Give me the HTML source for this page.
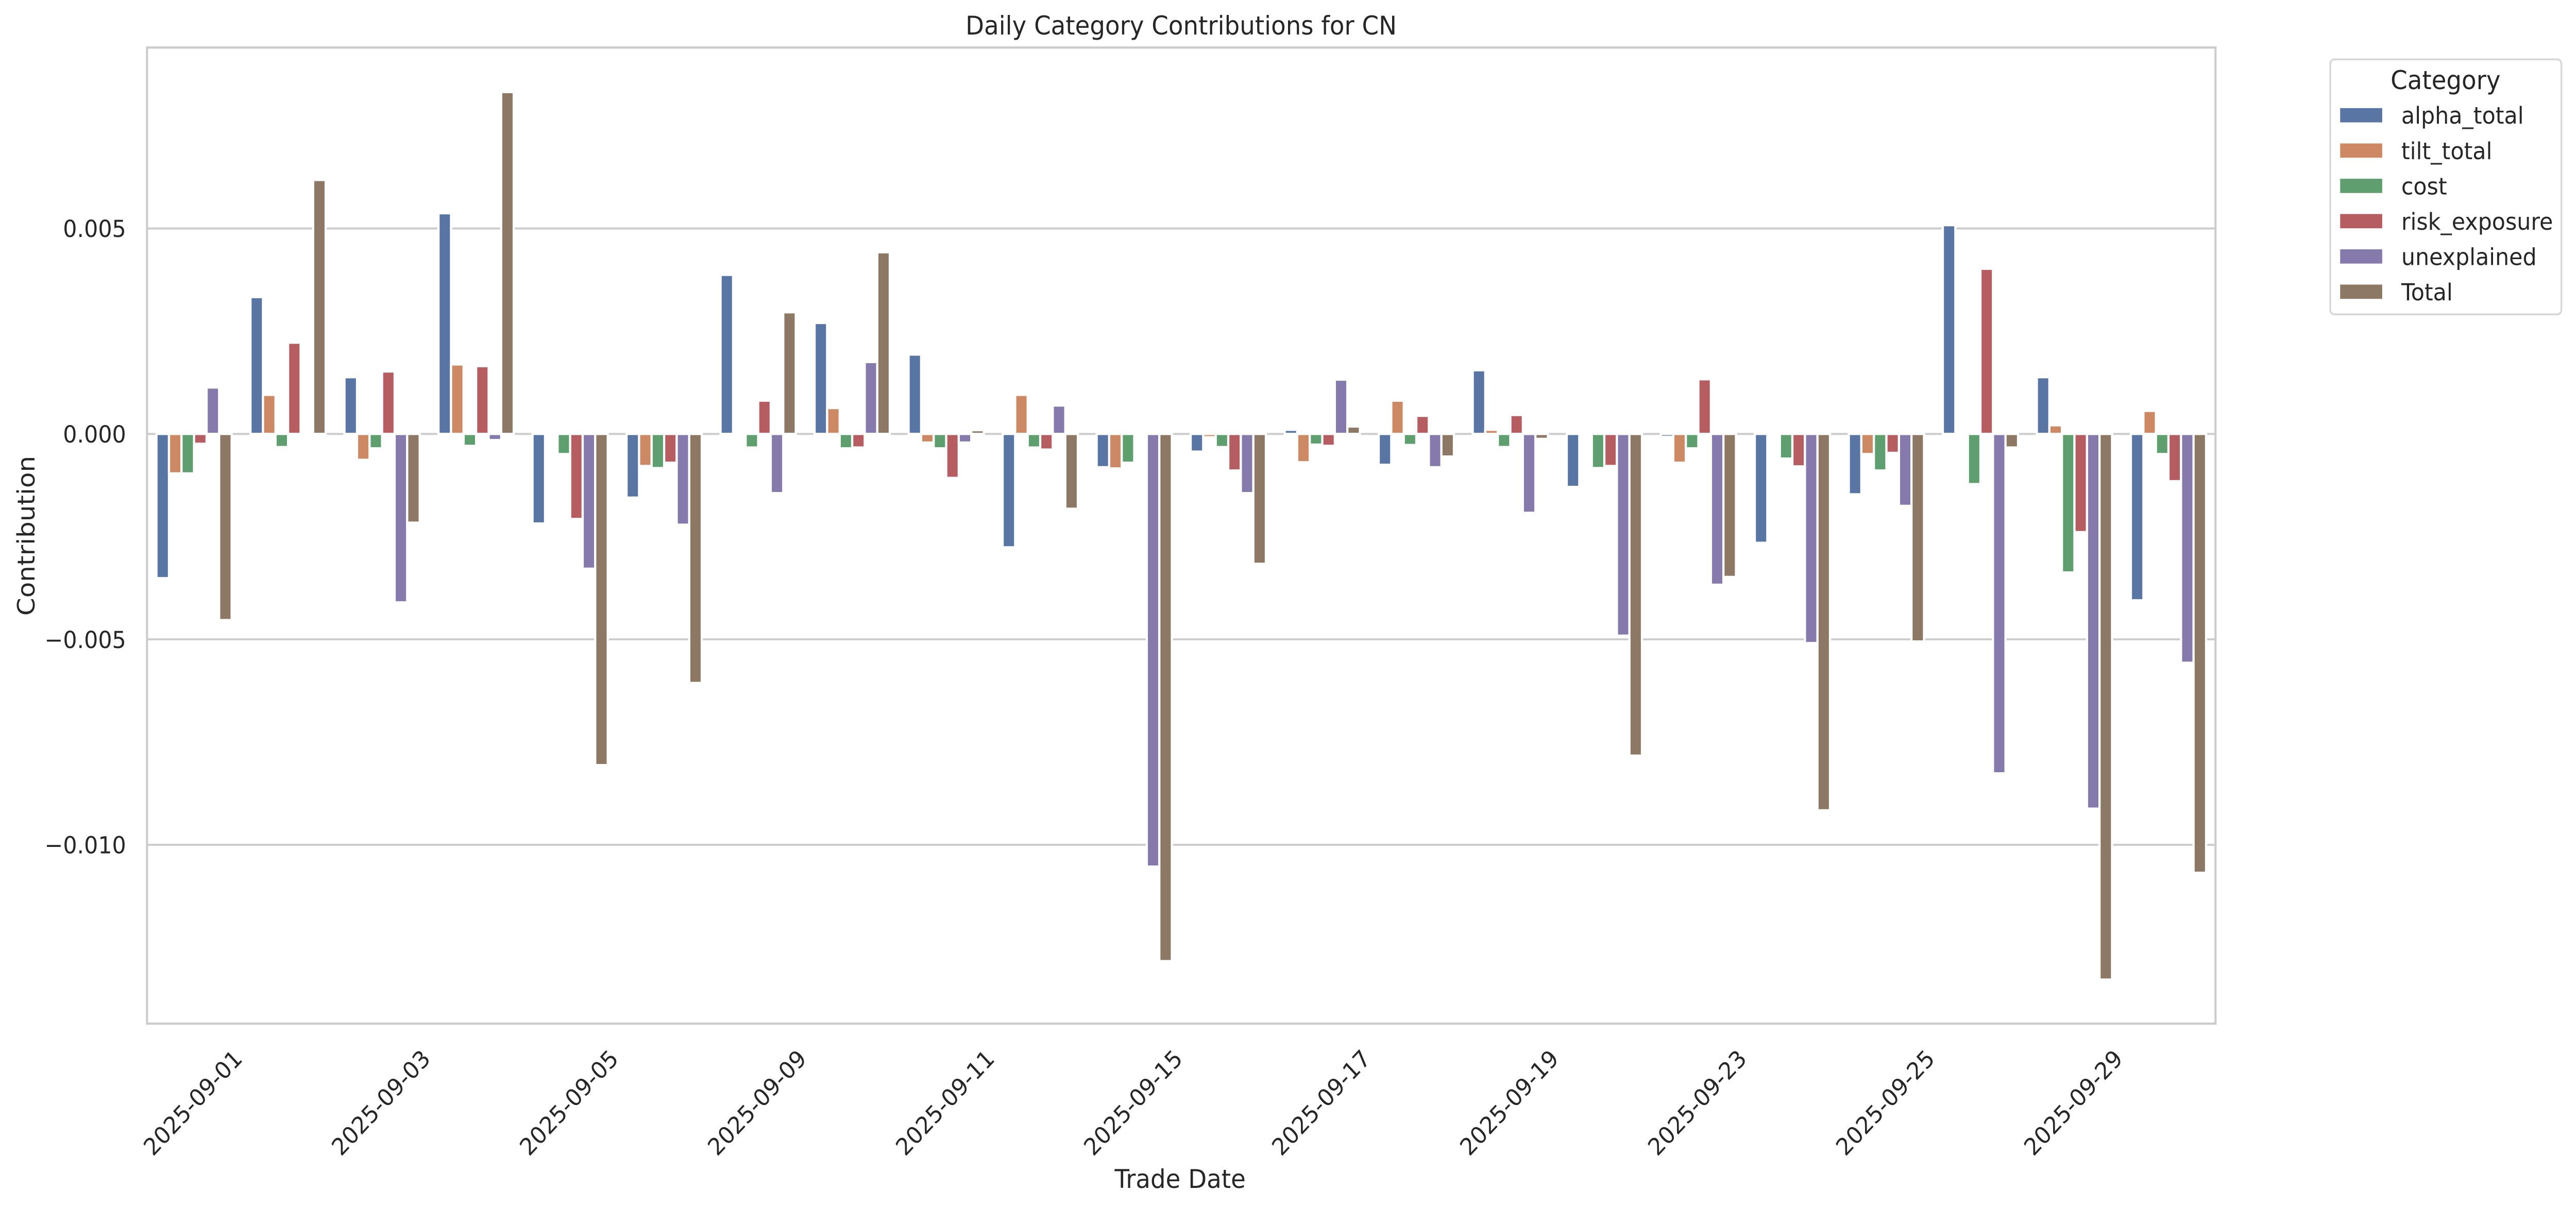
<!DOCTYPE html>
<html>
<head>
<meta charset="utf-8">
<style>
html,body{margin:0;padding:0;background:#fff;width:100%;height:100%;overflow:hidden;}
svg{display:block;width:100vw;height:100vh;}
text{font-family:"DejaVu Sans","Liberation Sans",sans-serif;fill:#262626;}
.a{fill:#5975a4}.t{fill:#cc8963}.c{fill:#5f9e6e}.r{fill:#b55d60}.u{fill:#857aab}.o{fill:#8d7866}
.bars rect{stroke:#fff;stroke-width:4.3;}
</style>
</head>
<body>
<svg viewBox="0 0 5352 2343" preserveAspectRatio="none" xmlns="http://www.w3.org/2000/svg">
<rect x="0" y="0" width="5352" height="2343" fill="#fff"/>
<!-- gridlines -->
<g stroke="#cccccc" stroke-width="3.9">
<line x1="305.5" y1="443.5" x2="4603" y2="443.5"/>
<line x1="305.5" y1="842.3" x2="4603" y2="842.3"/>
<line x1="305.5" y1="1241.1" x2="4603" y2="1241.1"/>
<line x1="305.5" y1="1639.9" x2="4603" y2="1639.9"/>
</g>
<!-- bars -->
<g class="bars" transform="translate(305.5,842.3) scale(195.34,-7.976)">
<g transform="translate(0,0)"><rect class="a" x="0.1" y="-35.1" width="0.13333" height="35.1" vector-effect="non-scaling-stroke"/><rect class="t" x="0.23333" y="-9.6" width="0.13333" height="9.6" vector-effect="non-scaling-stroke"/><rect class="c" x="0.36667" y="-9.6" width="0.13333" height="9.6" vector-effect="non-scaling-stroke"/><rect class="r" x="0.5" y="-2.4" width="0.13333" height="2.4" vector-effect="non-scaling-stroke"/><rect class="u" x="0.63333" y="0" width="0.13333" height="11.3" vector-effect="non-scaling-stroke"/><rect class="o" x="0.76667" y="-45.3" width="0.13333" height="45.3" vector-effect="non-scaling-stroke"/></g>
<g transform="translate(1,0)"><rect class="a" x="0.1" y="0" width="0.13333" height="33.3" vector-effect="non-scaling-stroke"/><rect class="t" x="0.23333" y="0" width="0.13333" height="9.5" vector-effect="non-scaling-stroke"/><rect class="c" x="0.36667" y="-3.2" width="0.13333" height="3.2" vector-effect="non-scaling-stroke"/><rect class="r" x="0.5" y="0" width="0.13333" height="22.2" vector-effect="non-scaling-stroke"/><rect class="u" x="0.63333" y="0" width="0.13333" height="0.05" vector-effect="non-scaling-stroke"/><rect class="o" x="0.76667" y="0" width="0.13333" height="61.8" vector-effect="non-scaling-stroke"/></g>
<g transform="translate(2,0)"><rect class="a" x="0.1" y="0" width="0.13333" height="13.8" vector-effect="non-scaling-stroke"/><rect class="t" x="0.23333" y="-6.3" width="0.13333" height="6.3" vector-effect="non-scaling-stroke"/><rect class="c" x="0.36667" y="-3.5" width="0.13333" height="3.5" vector-effect="non-scaling-stroke"/><rect class="r" x="0.5" y="0" width="0.13333" height="15.2" vector-effect="non-scaling-stroke"/><rect class="u" x="0.63333" y="-41.0" width="0.13333" height="41.0" vector-effect="non-scaling-stroke"/><rect class="o" x="0.76667" y="-21.6" width="0.13333" height="21.6" vector-effect="non-scaling-stroke"/></g>
<g transform="translate(3,0)"><rect class="a" x="0.1" y="0" width="0.13333" height="53.7" vector-effect="non-scaling-stroke"/><rect class="t" x="0.23333" y="0" width="0.13333" height="16.9" vector-effect="non-scaling-stroke"/><rect class="c" x="0.36667" y="-2.9" width="0.13333" height="2.9" vector-effect="non-scaling-stroke"/><rect class="r" x="0.5" y="0" width="0.13333" height="16.5" vector-effect="non-scaling-stroke"/><rect class="u" x="0.63333" y="-1.5" width="0.13333" height="1.5" vector-effect="non-scaling-stroke"/><rect class="o" x="0.76667" y="0" width="0.13333" height="83.2" vector-effect="non-scaling-stroke"/></g>
<g transform="translate(4,0)"><rect class="a" x="0.1" y="-21.8" width="0.13333" height="21.8" vector-effect="non-scaling-stroke"/><rect class="t" x="0.23333" y="0" width="0.13333" height="0.05" vector-effect="non-scaling-stroke"/><rect class="c" x="0.36667" y="-4.9" width="0.13333" height="4.9" vector-effect="non-scaling-stroke"/><rect class="r" x="0.5" y="-20.7" width="0.13333" height="20.7" vector-effect="non-scaling-stroke"/><rect class="u" x="0.63333" y="-32.8" width="0.13333" height="32.8" vector-effect="non-scaling-stroke"/><rect class="o" x="0.76667" y="-80.6" width="0.13333" height="80.6" vector-effect="non-scaling-stroke"/></g>
<g transform="translate(5,0)"><rect class="a" x="0.1" y="-15.5" width="0.13333" height="15.5" vector-effect="non-scaling-stroke"/><rect class="t" x="0.23333" y="-7.8" width="0.13333" height="7.8" vector-effect="non-scaling-stroke"/><rect class="c" x="0.36667" y="-8.3" width="0.13333" height="8.3" vector-effect="non-scaling-stroke"/><rect class="r" x="0.5" y="-7.0" width="0.13333" height="7.0" vector-effect="non-scaling-stroke"/><rect class="u" x="0.63333" y="-22.1" width="0.13333" height="22.1" vector-effect="non-scaling-stroke"/><rect class="o" x="0.76667" y="-60.6" width="0.13333" height="60.6" vector-effect="non-scaling-stroke"/></g>
<g transform="translate(6,0)"><rect class="a" x="0.1" y="0" width="0.13333" height="38.7" vector-effect="non-scaling-stroke"/><rect class="t" x="0.23333" y="0" width="0.13333" height="0.05" vector-effect="non-scaling-stroke"/><rect class="c" x="0.36667" y="-3.3" width="0.13333" height="3.3" vector-effect="non-scaling-stroke"/><rect class="r" x="0.5" y="0" width="0.13333" height="8.1" vector-effect="non-scaling-stroke"/><rect class="u" x="0.63333" y="-14.4" width="0.13333" height="14.4" vector-effect="non-scaling-stroke"/><rect class="o" x="0.76667" y="0" width="0.13333" height="29.6" vector-effect="non-scaling-stroke"/></g>
<g transform="translate(7,0)"><rect class="a" x="0.1" y="0" width="0.13333" height="27.0" vector-effect="non-scaling-stroke"/><rect class="t" x="0.23333" y="0" width="0.13333" height="6.3" vector-effect="non-scaling-stroke"/><rect class="c" x="0.36667" y="-3.5" width="0.13333" height="3.5" vector-effect="non-scaling-stroke"/><rect class="r" x="0.5" y="-3.3" width="0.13333" height="3.3" vector-effect="non-scaling-stroke"/><rect class="u" x="0.63333" y="0" width="0.13333" height="17.5" vector-effect="non-scaling-stroke"/><rect class="o" x="0.76667" y="0" width="0.13333" height="44.2" vector-effect="non-scaling-stroke"/></g>
<g transform="translate(8,0)"><rect class="a" x="0.1" y="0" width="0.13333" height="19.3" vector-effect="non-scaling-stroke"/><rect class="t" x="0.23333" y="-2.1" width="0.13333" height="2.1" vector-effect="non-scaling-stroke"/><rect class="c" x="0.36667" y="-3.5" width="0.13333" height="3.5" vector-effect="non-scaling-stroke"/><rect class="r" x="0.5" y="-10.7" width="0.13333" height="10.7" vector-effect="non-scaling-stroke"/><rect class="u" x="0.63333" y="-2.1" width="0.13333" height="2.1" vector-effect="non-scaling-stroke"/><rect class="o" x="0.76667" y="0" width="0.13333" height="0.9" vector-effect="non-scaling-stroke"/></g>
<g transform="translate(9,0)"><rect class="a" x="0.1" y="-27.6" width="0.13333" height="27.6" vector-effect="non-scaling-stroke"/><rect class="t" x="0.23333" y="0" width="0.13333" height="9.5" vector-effect="non-scaling-stroke"/><rect class="c" x="0.36667" y="-3.3" width="0.13333" height="3.3" vector-effect="non-scaling-stroke"/><rect class="r" x="0.5" y="-3.8" width="0.13333" height="3.8" vector-effect="non-scaling-stroke"/><rect class="u" x="0.63333" y="0" width="0.13333" height="6.9" vector-effect="non-scaling-stroke"/><rect class="o" x="0.76667" y="-18.2" width="0.13333" height="18.2" vector-effect="non-scaling-stroke"/></g>
<g transform="translate(10,0)"><rect class="a" x="0.1" y="-8.1" width="0.13333" height="8.1" vector-effect="non-scaling-stroke"/><rect class="t" x="0.23333" y="-8.4" width="0.13333" height="8.4" vector-effect="non-scaling-stroke"/><rect class="c" x="0.36667" y="-7.0" width="0.13333" height="7.0" vector-effect="non-scaling-stroke"/><rect class="r" x="0.5" y="0" width="0.13333" height="0.05" vector-effect="non-scaling-stroke"/><rect class="u" x="0.63333" y="-105.3" width="0.13333" height="105.3" vector-effect="non-scaling-stroke"/><rect class="o" x="0.76667" y="-128.3" width="0.13333" height="128.3" vector-effect="non-scaling-stroke"/></g>
<g transform="translate(11,0)"><rect class="a" x="0.1" y="-4.3" width="0.13333" height="4.3" vector-effect="non-scaling-stroke"/><rect class="t" x="0.23333" y="-0.8" width="0.13333" height="0.8" vector-effect="non-scaling-stroke"/><rect class="c" x="0.36667" y="-3.2" width="0.13333" height="3.2" vector-effect="non-scaling-stroke"/><rect class="r" x="0.5" y="-8.9" width="0.13333" height="8.9" vector-effect="non-scaling-stroke"/><rect class="u" x="0.63333" y="-14.4" width="0.13333" height="14.4" vector-effect="non-scaling-stroke"/><rect class="o" x="0.76667" y="-31.6" width="0.13333" height="31.6" vector-effect="non-scaling-stroke"/></g>
<g transform="translate(12,0)"><rect class="a" x="0.1" y="0" width="0.13333" height="1.0" vector-effect="non-scaling-stroke"/><rect class="t" x="0.23333" y="-6.9" width="0.13333" height="6.9" vector-effect="non-scaling-stroke"/><rect class="c" x="0.36667" y="-2.6" width="0.13333" height="2.6" vector-effect="non-scaling-stroke"/><rect class="r" x="0.5" y="-2.9" width="0.13333" height="2.9" vector-effect="non-scaling-stroke"/><rect class="u" x="0.63333" y="0" width="0.13333" height="13.2" vector-effect="non-scaling-stroke"/><rect class="o" x="0.76667" y="0" width="0.13333" height="1.8" vector-effect="non-scaling-stroke"/></g>
<g transform="translate(13,0)"><rect class="a" x="0.1" y="-7.5" width="0.13333" height="7.5" vector-effect="non-scaling-stroke"/><rect class="t" x="0.23333" y="0" width="0.13333" height="8.1" vector-effect="non-scaling-stroke"/><rect class="c" x="0.36667" y="-2.7" width="0.13333" height="2.7" vector-effect="non-scaling-stroke"/><rect class="r" x="0.5" y="0" width="0.13333" height="4.4" vector-effect="non-scaling-stroke"/><rect class="u" x="0.63333" y="-8.1" width="0.13333" height="8.1" vector-effect="non-scaling-stroke"/><rect class="o" x="0.76667" y="-5.5" width="0.13333" height="5.5" vector-effect="non-scaling-stroke"/></g>
<g transform="translate(14,0)"><rect class="a" x="0.1" y="0" width="0.13333" height="15.5" vector-effect="non-scaling-stroke"/><rect class="t" x="0.23333" y="0" width="0.13333" height="1.0" vector-effect="non-scaling-stroke"/><rect class="c" x="0.36667" y="-3.2" width="0.13333" height="3.2" vector-effect="non-scaling-stroke"/><rect class="r" x="0.5" y="0" width="0.13333" height="4.6" vector-effect="non-scaling-stroke"/><rect class="u" x="0.63333" y="-19.2" width="0.13333" height="19.2" vector-effect="non-scaling-stroke"/><rect class="o" x="0.76667" y="-1.2" width="0.13333" height="1.2" vector-effect="non-scaling-stroke"/></g>
<g transform="translate(15,0)"><rect class="a" x="0.1" y="-12.9" width="0.13333" height="12.9" vector-effect="non-scaling-stroke"/><rect class="t" x="0.23333" y="0" width="0.13333" height="0.05" vector-effect="non-scaling-stroke"/><rect class="c" x="0.36667" y="-8.3" width="0.13333" height="8.3" vector-effect="non-scaling-stroke"/><rect class="r" x="0.5" y="-7.8" width="0.13333" height="7.8" vector-effect="non-scaling-stroke"/><rect class="u" x="0.63333" y="-49.1" width="0.13333" height="49.1" vector-effect="non-scaling-stroke"/><rect class="o" x="0.76667" y="-78.3" width="0.13333" height="78.3" vector-effect="non-scaling-stroke"/></g>
<g transform="translate(16,0)"><rect class="a" x="0.1" y="-0.7" width="0.13333" height="0.7" vector-effect="non-scaling-stroke"/><rect class="t" x="0.23333" y="-7.0" width="0.13333" height="7.0" vector-effect="non-scaling-stroke"/><rect class="c" x="0.36667" y="-3.5" width="0.13333" height="3.5" vector-effect="non-scaling-stroke"/><rect class="r" x="0.5" y="0" width="0.13333" height="13.3" vector-effect="non-scaling-stroke"/><rect class="u" x="0.63333" y="-36.7" width="0.13333" height="36.7" vector-effect="non-scaling-stroke"/><rect class="o" x="0.76667" y="-34.8" width="0.13333" height="34.8" vector-effect="non-scaling-stroke"/></g>
<g transform="translate(17,0)"><rect class="a" x="0.1" y="-26.5" width="0.13333" height="26.5" vector-effect="non-scaling-stroke"/><rect class="t" x="0.23333" y="0" width="0.13333" height="0.05" vector-effect="non-scaling-stroke"/><rect class="c" x="0.36667" y="-6.0" width="0.13333" height="6.0" vector-effect="non-scaling-stroke"/><rect class="r" x="0.5" y="-7.9" width="0.13333" height="7.9" vector-effect="non-scaling-stroke"/><rect class="u" x="0.63333" y="-50.9" width="0.13333" height="50.9" vector-effect="non-scaling-stroke"/><rect class="o" x="0.76667" y="-91.6" width="0.13333" height="91.6" vector-effect="non-scaling-stroke"/></g>
<g transform="translate(18,0)"><rect class="a" x="0.1" y="-14.7" width="0.13333" height="14.7" vector-effect="non-scaling-stroke"/><rect class="t" x="0.23333" y="-4.9" width="0.13333" height="4.9" vector-effect="non-scaling-stroke"/><rect class="c" x="0.36667" y="-8.9" width="0.13333" height="8.9" vector-effect="non-scaling-stroke"/><rect class="r" x="0.5" y="-4.6" width="0.13333" height="4.6" vector-effect="non-scaling-stroke"/><rect class="u" x="0.63333" y="-17.5" width="0.13333" height="17.5" vector-effect="non-scaling-stroke"/><rect class="o" x="0.76667" y="-50.5" width="0.13333" height="50.5" vector-effect="non-scaling-stroke"/></g>
<g transform="translate(19,0)"><rect class="a" x="0.1" y="0" width="0.13333" height="50.8" vector-effect="non-scaling-stroke"/><rect class="t" x="0.23333" y="0" width="0.13333" height="0.05" vector-effect="non-scaling-stroke"/><rect class="c" x="0.36667" y="-12.2" width="0.13333" height="12.2" vector-effect="non-scaling-stroke"/><rect class="r" x="0.5" y="0" width="0.13333" height="40.2" vector-effect="non-scaling-stroke"/><rect class="u" x="0.63333" y="-82.6" width="0.13333" height="82.6" vector-effect="non-scaling-stroke"/><rect class="o" x="0.76667" y="-3.3" width="0.13333" height="3.3" vector-effect="non-scaling-stroke"/></g>
<g transform="translate(20,0)"><rect class="a" x="0.1" y="0" width="0.13333" height="13.8" vector-effect="non-scaling-stroke"/><rect class="t" x="0.23333" y="0" width="0.13333" height="2.1" vector-effect="non-scaling-stroke"/><rect class="c" x="0.36667" y="-33.7" width="0.13333" height="33.7" vector-effect="non-scaling-stroke"/><rect class="r" x="0.5" y="-23.9" width="0.13333" height="23.9" vector-effect="non-scaling-stroke"/><rect class="u" x="0.63333" y="-91.2" width="0.13333" height="91.2" vector-effect="non-scaling-stroke"/><rect class="o" x="0.76667" y="-132.8" width="0.13333" height="132.8" vector-effect="non-scaling-stroke"/></g>
<g transform="translate(21,0)"><rect class="a" x="0.1" y="-40.5" width="0.13333" height="40.5" vector-effect="non-scaling-stroke"/><rect class="t" x="0.23333" y="0" width="0.13333" height="5.6" vector-effect="non-scaling-stroke"/><rect class="c" x="0.36667" y="-4.9" width="0.13333" height="4.9" vector-effect="non-scaling-stroke"/><rect class="r" x="0.5" y="-11.5" width="0.13333" height="11.5" vector-effect="non-scaling-stroke"/><rect class="u" x="0.63333" y="-55.7" width="0.13333" height="55.7" vector-effect="non-scaling-stroke"/><rect class="o" x="0.76667" y="-106.8" width="0.13333" height="106.8" vector-effect="non-scaling-stroke"/></g>
</g>
<!-- spines -->
<rect x="305.5" y="92.3" width="4297.5" height="1894.7" fill="none" stroke="#cccccc" stroke-width="4.4"/>
<!-- y tick labels -->
<g font-size="45.8" text-anchor="end">
<text x="262" y="460.2">0.005</text>
<text x="262" y="859.0">0.000</text>
<text x="262" y="1257.8">−0.005</text>
<text x="262" y="1656.6">−0.010</text>
</g>
<!-- x tick labels -->
<g font-size="45.8" text-anchor="middle">
<text transform="translate(400.2,2140) rotate(-45)" y="16.7">2025-09-01</text>
<text transform="translate(790.9,2140) rotate(-45)" y="16.7">2025-09-03</text>
<text transform="translate(1181.5,2140) rotate(-45)" y="16.7">2025-09-05</text>
<text transform="translate(1572.2,2140) rotate(-45)" y="16.7">2025-09-09</text>
<text transform="translate(1962.9,2140) rotate(-45)" y="16.7">2025-09-11</text>
<text transform="translate(2353.6,2140) rotate(-45)" y="16.7">2025-09-15</text>
<text transform="translate(2744.3,2140) rotate(-45)" y="16.7">2025-09-17</text>
<text transform="translate(3135.0,2140) rotate(-45)" y="16.7">2025-09-19</text>
<text transform="translate(3525.6,2140) rotate(-45)" y="16.7">2025-09-23</text>
<text transform="translate(3916.3,2140) rotate(-45)" y="16.7">2025-09-25</text>
<text transform="translate(4307.0,2140) rotate(-45)" y="16.7">2025-09-29</text>
</g>
<!-- title and axis labels -->
<text x="2454" y="67" font-size="50" text-anchor="middle">Daily Category Contributions for CN</text>
<text x="2452" y="2306" font-size="50" text-anchor="middle">Trade Date</text>
<text transform="translate(71.7,1040) rotate(-90)" font-size="50" text-anchor="middle">Contribution</text>
<!-- legend -->
<rect x="4841.4" y="115.2" width="480.3" height="495.1" rx="9" ry="9" fill="#fff" stroke="#d6d6d6" stroke-width="3.5"/>
<text x="5081" y="172.8" font-size="50" text-anchor="middle">Category</text>
<rect class="a" x="4862" y="209.85" width="87.4" height="27.7"/>
<rect class="t" x="4862" y="278.45" width="87.4" height="27.7"/>
<rect class="c" x="4862" y="346.95" width="87.4" height="27.7"/>
<rect class="r" x="4862" y="415.45" width="87.4" height="27.7"/>
<rect class="u" x="4862" y="483.95" width="87.4" height="27.7"/>
<rect class="o" x="4862" y="552.45" width="87.4" height="27.7"/>
<g font-size="45.8">
<text x="4989" y="240.2">alpha_total</text>
<text x="4989" y="308.8">tilt_total</text>
<text x="4989" y="377.3">cost</text>
<text x="4989" y="445.8">risk_exposure</text>
<text x="4989" y="514.3">unexplained</text>
<text x="4989" y="582.8">Total</text>
</g>
</svg>
</body>
</html>
